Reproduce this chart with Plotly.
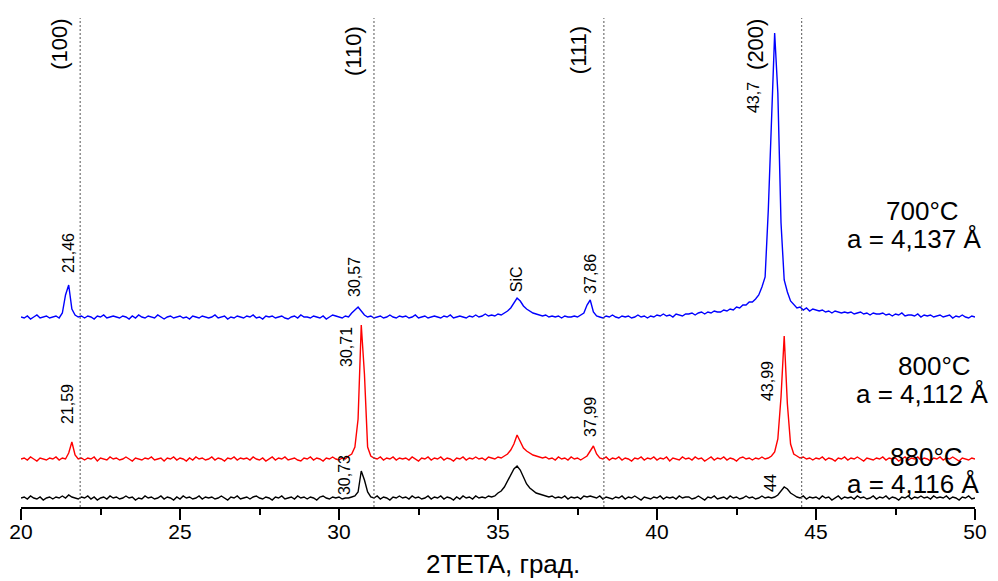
import plotly.graph_objects as go

# 2-theta sampling grid of the diffractograms (0.1 deg step, 20..50 deg)
two_theta = [round(20 + 0.1 * k, 1) for k in range(301)]

# Intensities (a.u.), one row per degree (20.0 .. 20.9, 21.0 .. 21.9, ...)
i700 = [
    5, 4, 6, 3, 5, 7, 4, 5, 6, 4,            # 20
    5, 6, 4, 9, 27, 37, 13, 7, 5, 6,         # 21
    4, 6, 5, 3, 6, 5, 7, 4, 5, 6,            # 22
    5, 4, 6, 5, 3, 6, 4, 7, 5, 4,            # 23
    6, 5, 4, 7, 5, 3, 5, 6, 4, 5,            # 24
    6, 4, 5, 3, 6, 5, 4, 6, 5, 4,            # 25
    5, 7, 4, 5, 6, 3, 5, 4, 6, 5,            # 26
    4, 6, 5, 7, 4, 5, 3, 6, 5, 6,            # 27
    4, 5, 6, 4, 3, 5, 6, 4, 7, 5,            # 28
    5, 4, 6, 5, 4, 6, 3, 5, 7, 6,            # 29
    5, 4, 6, 5, 9, 12, 15, 11, 7, 5,         # 30
    6, 4, 5, 6, 4, 5, 7, 5, 4, 6,            # 31
    5, 6, 4, 5, 7, 4, 5, 6, 4, 5,            # 32
    6, 5, 4, 6, 5, 7, 4, 5, 6, 5,            # 33
    4, 6, 5, 7, 5, 6, 8, 6, 7, 6,            # 34
    8, 7, 9, 11, 14, 19, 24, 21, 16, 13,     # 35
    11, 9, 8, 7, 6, 7, 5, 6, 5, 6,           # 36
    4, 6, 5, 5, 6, 5, 7, 9, 17, 22,          # 37
    10, 6, 5, 4, 6, 5, 7, 5, 4, 6,           # 38
    5, 6, 4, 5, 7, 5, 6, 4, 6, 5,            # 39
    7, 6, 8, 6, 7, 5, 8, 7, 6, 8,            # 40
    8, 9, 7, 9, 10, 8, 10, 9, 11, 10,        # 41
    10, 12, 11, 13, 12, 15, 14, 17, 17, 20,  # 42
    20, 23, 27, 35, 45, 112, 212, 289, 229, 99,  # 43
    42, 30, 21, 18, 14, 15, 12, 14, 11, 13,  # 44
    12, 11, 12, 10, 11, 9, 11, 10, 9, 10,    # 45
    9, 10, 8, 9, 10, 8, 9, 7, 9, 8,          # 46
    8, 9, 7, 8, 6, 8, 7, 9, 6, 7,            # 47
    7, 6, 8, 5, 7, 6, 7, 5, 6, 7,            # 48
    5, 6, 7, 4, 6, 5, 7, 5, 4, 6,            # 49
    5,                                       # 50
]

i800 = [
    5, 6, 4, 7, 5, 3, 6, 5, 4, 6,            # 20
    5, 7, 4, 6, 5, 11, 22, 9, 5, 6,          # 21
    4, 6, 5, 7, 3, 6, 5, 4, 7, 5,            # 22
    6, 4, 5, 7, 5, 3, 6, 5, 4, 6,            # 23
    5, 7, 4, 5, 6, 3, 6, 5, 7, 4,            # 24
    6, 5, 3, 6, 4, 7, 5, 6, 4, 5,            # 25
    7, 4, 6, 5, 3, 6, 5, 7, 4, 6,            # 26
    5, 6, 4, 7, 5, 4, 6, 3, 5, 7,            # 27
    4, 6, 5, 7, 4, 5, 6, 4, 3, 6,            # 28
    5, 7, 4, 6, 5, 3, 6, 5, 7, 5,            # 29
    4, 6, 5, 8, 10, 17, 45, 139, 90, 17,     # 30
    8, 6, 5, 7, 4, 6, 5, 7, 4, 6,            # 31
    5, 6, 4, 7, 5, 3, 6, 5, 7, 4,            # 32
    6, 5, 7, 4, 6, 5, 3, 6, 5, 7,            # 33
    4, 6, 5, 7, 5, 6, 4, 7, 6, 5,            # 34
    7, 6, 8, 10, 14, 20, 29, 22, 16, 13,     # 35
    11, 9, 8, 7, 6, 7, 5, 6, 4, 7,           # 36
    5, 6, 4, 7, 5, 6, 4, 6, 8, 13,           # 37
    18, 10, 6, 5, 7, 4, 6, 5, 7, 4,          # 38
    6, 5, 3, 6, 5, 7, 4, 6, 5, 7,            # 39
    4, 6, 5, 7, 3, 6, 5, 4, 7, 5,            # 40
    6, 4, 7, 5, 6, 3, 5, 7, 4, 6,            # 41
    5, 7, 4, 6, 5, 3, 6, 7, 5, 6,            # 42
    4, 6, 5, 7, 5, 6, 8, 12, 25, 67,         # 43
    128, 60, 20, 10, 8, 6, 7, 5, 6, 4,       # 44
    6, 5, 7, 4, 6, 5, 3, 6, 5, 7,            # 45
    4, 6, 5, 7, 5, 3, 6, 5, 4, 6,            # 46
    5, 7, 4, 6, 5, 6, 3, 5, 7, 4,            # 47
    6, 5, 7, 4, 6, 5, 3, 6, 5, 7,            # 48
    4, 6, 5, 7, 5, 3, 6, 5, 4, 6,            # 49
    5,                                       # 50
]

i880 = [
    5, 6, 4, 7, 5, 4, 6, 3, 5, 6,            # 20
    4, 6, 5, 7, 5, 8, 6, 5, 4, 6,            # 21
    5, 7, 4, 6, 3, 5, 6, 4, 7, 5,            # 22
    6, 4, 5, 7, 5, 6, 3, 5, 4, 7,            # 23
    5, 6, 4, 5, 7, 4, 6, 5, 3, 6,            # 24
    4, 7, 5, 6, 4, 5, 7, 4, 6, 5,            # 25
    6, 4, 5, 7, 5, 3, 6, 5, 7, 4,            # 26
    5, 6, 4, 6, 7, 5, 4, 6, 5, 3,            # 27
    6, 5, 7, 4, 5, 6, 4, 7, 5, 6,            # 28
    4, 6, 5, 3, 6, 7, 5, 4, 6, 5,            # 29
    6, 4, 5, 5, 6, 7, 11, 32, 23, 11,        # 30
    6, 5, 7, 4, 6, 5, 3, 6, 5, 7,            # 31
    5, 6, 4, 7, 5, 6, 4, 5, 7, 4,            # 32
    6, 5, 7, 4, 6, 5, 3, 6, 4, 7,            # 33
    5, 6, 4, 7, 5, 6, 5, 7, 6, 7,            # 34
    10, 12, 16, 22, 28, 34, 37, 33, 26, 19,  # 35
    15, 12, 10, 9, 8, 7, 6, 7, 5, 6,         # 36
    5, 7, 4, 6, 5, 6, 4, 7, 6, 7,            # 37
    6, 5, 7, 4, 6, 5, 4, 6, 5, 7,            # 38
    4, 6, 5, 7, 5, 3, 6, 5, 4, 6,            # 39
    5, 7, 4, 6, 5, 6, 4, 7, 5, 6,            # 40
    6, 4, 5, 7, 5, 3, 6, 5, 7, 4,            # 41
    5, 6, 4, 7, 5, 6, 4, 5, 7, 5,            # 42
    6, 4, 5, 7, 5, 6, 5, 6, 8, 12,           # 43
    16, 14, 10, 8, 6, 5, 7, 4, 6, 5,         # 44
    6, 4, 7, 5, 6, 3, 5, 7, 4, 6,            # 45
    5, 6, 4, 7, 5, 6, 4, 5, 7, 4,            # 46
    6, 5, 7, 4, 6, 5, 3, 6, 5, 7,            # 47
    4, 6, 5, 7, 5, 6, 4, 7, 5, 6,            # 48
    5, 7, 4, 6, 5, 3, 6, 5, 7, 4,            # 49
    5,                                       # 50
]

assert len(i700) == len(two_theta) == len(i800) == len(i880)

# vertical stacking offsets of the curves (a.u.)
offset_700 = 185
offset_800 = 43
offset_880 = 4

# reference reflection positions (dotted lines) and their Miller indices
ref_positions = [21.86, 31.10, 38.33, 44.55]
ref_hkl = ["(100)", "(110)", "(111)", "(200)"]
hkl_label_x = [21.19, 30.44, 37.52, 43.08]
hkl_label_y = [463, 456, 457, 463]

# peak-position labels: text, x, y
peak_text = ["21,46", "30,57", "SiC", "37,86", "43,7",
             "21,59", "30,71", "37,99", "43,99",
             "30,73", "44"]
peak_x = [21.48, 30.47, 35.57, 37.89, 43.02,
          21.45, 30.22, 37.89, 43.46,
          30.16, 43.55]
peak_y = [254, 230, 228, 233, 409,
          103, 160, 90, 126,
          32, 24]

# sample labels
sample_text = ["700°C", "a = 4,137 Å", "800°C", "a = 4,112 Å", "880°C", "a = 4,116 Å"]
sample_x = [48.36, 48.08, 48.74, 48.33, 48.49, 48.05]
sample_y = [296, 268, 141, 113, 50, 23]

FONT = "Liberation Sans, Arial, Helvetica, sans-serif"

fig = go.Figure()
for vals, off, col in [(i880, offset_880, "#000000"),
                       (i800, offset_800, "#ff0000"),
                       (i700, offset_700, "#0000ff")]:
    fig.add_trace(go.Scatter(
        x=two_theta, y=[v + off for v in vals], mode="lines",
        line=dict(color=col, width=1.4), hoverinfo="skip"))

shapes = []
for xp in ref_positions:
    shapes.append(dict(type="line", xref="x", yref="paper", x0=xp, x1=xp, y0=0, y1=1,
                       line=dict(color="#555555", width=1, dash="2px,2px")))

ann = []
for t, xx, yy in zip(ref_hkl, hkl_label_x, hkl_label_y):
    ann.append(dict(text=t, x=xx, y=yy, xref="x", yref="y", showarrow=False,
                    textangle=-90, font=dict(size=22, color="black", family=FONT)))
for t, xx, yy in zip(peak_text, peak_x, peak_y):
    ann.append(dict(text=t, x=xx, y=yy, xref="x", yref="y", showarrow=False,
                    textangle=-90, font=dict(size=16, color="black", family=FONT)))
for t, xx, yy in zip(sample_text, sample_x, sample_y):
    ann.append(dict(text=t, x=xx, y=yy, xref="x", yref="y", showarrow=False,
                    borderpad=0,
                    font=dict(size=26, color="black", family=FONT)))
ann.append(dict(text="2TETA, град.", x=0.505, y=-0.1493, xref="paper", yref="paper",
                xanchor="center", yanchor="bottom", borderpad=0,
                showarrow=False, font=dict(size=26, color="black", family=FONT)))

fig.update_layout(
    width=998, height=581,
    margin=dict(l=21, r=23, t=18, b=74, autoexpand=False),
    paper_bgcolor="white", plot_bgcolor="white",
    showlegend=False,
    shapes=shapes, annotations=ann,
    font=dict(family=FONT, color="black"),
    xaxis=dict(range=[20, 50], tick0=20, dtick=5, showgrid=False, zeroline=False,
               automargin=False,
               showline=True, linecolor="black", linewidth=2,
               ticks="outside", ticklen=11, tickwidth=2, tickcolor="black",
               ticklabelstandoff=-6,
               tickfont=dict(size=21, color="black", family=FONT),
               minor=dict(dtick=2.5, ticks="outside", ticklen=6, tickwidth=2,
                          tickcolor="black", showgrid=False)),
    yaxis=dict(range=[0, 489], visible=False, fixedrange=True),
)

fig.write_html("out.html", config={"displayModeBar": False, "staticPlot": True},
               post_script="document.body.style.margin='0';document.body.style.overflow='hidden';")
